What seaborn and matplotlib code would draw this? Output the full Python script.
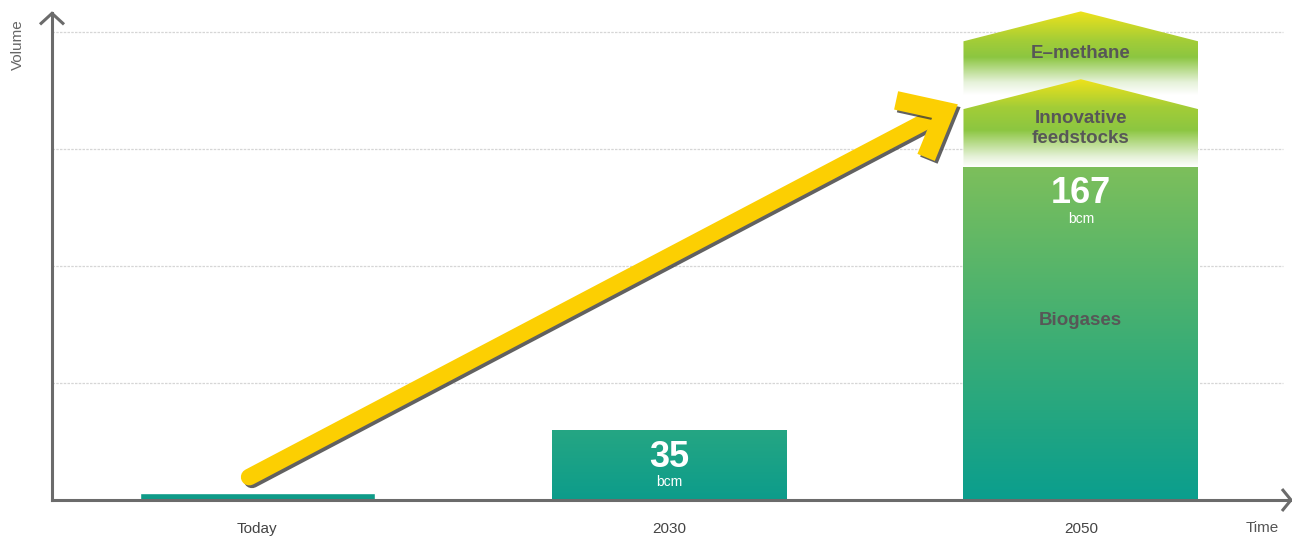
import numpy as np
import pandas as pd
import matplotlib.pyplot as plt
import matplotlib.patheffects as pe
import seaborn as sns
from matplotlib.colors import LinearSegmentedColormap
from matplotlib.patches import Polygon

# values (bcm)
periods = ["Today", "2030", "2050"]
volumes = [3.5, 35, 167]
innov_base, innov_shoulder, innov_peak = 167, 196, 211
emeth_base, emeth_shoulder, emeth_peak = 203, 230, 245
grid_levels = [58.7, 117.4, 176.1, 234.8]

sns.set_theme(style="white")
plt.rcParams['font.family'] = ['Liberation Sans', 'DejaVu Sans']

fig = plt.figure(figsize=(12.92, 5.36), dpi=100)
ax = fig.add_axes([52 / 1292, 36 / 536, 1240 / 1292, 495 / 536])

df = pd.DataFrame({"period": periods, "volume": volumes})
sns.barplot(data=df, x="period", y="volume", color="#0e9b88", width=0.57,
            saturation=1, ax=ax, zorder=2)


def vgrad(extent, stops, clip, z):
    cmap = LinearSegmentedColormap.from_list("g", stops)
    arr = np.linspace(0, 1, 256).reshape(-1, 1)
    im = ax.imshow(arr, cmap=cmap, extent=extent, origin="lower",
                   aspect="auto", zorder=z, interpolation="bilinear")
    im.set_clip_path(clip)
    return im


bars = ax.patches
# 2030 bar: teal gradient
b = bars[1]
vgrad([b.get_x(), b.get_x() + b.get_width(), 0, b.get_height()],
      [(0, "#0c9c8b"), (1, "#25a683")], b, 3)
# 2050 bar: teal to green
b = bars[2]
vgrad([b.get_x(), b.get_x() + b.get_width(), 0, b.get_height()],
      [(0, "#0a9e8e"), (0.45, "#39ad76"), (1, "#7dbf5b")], b, 3)

x0, x1 = b.get_x(), b.get_x() + b.get_width()
xc = (x0 + x1) / 2

# chevron blocks on top of 2050
for base, sh, pk, stops in [
    (innov_base, innov_shoulder, innov_peak,
     [(0, "#ffffff"), (0.12, "#e4f1d6"), (0.42, "#8cc641"),
      (0.68, "#a3cd37"), (1, "#efe21a")]),
    (emeth_base, emeth_shoulder, emeth_peak,
     [(0, "#ffffff"), (0.15, "#e6f2da"), (0.45, "#8cc641"),
      (0.65, "#a3cd37"), (1, "#efe21a")]),
]:
    poly = Polygon([(x0, base), (x0, sh), (xc, pk), (x1, sh), (x1, base)],
                   closed=True, facecolor="none", edgecolor="none")
    ax.add_patch(poly)
    vgrad([x0, x1, base, pk], stops, poly, 4 if base == innov_base else 3.5)

ax.set_xlim(-0.499, 2.513)
ax.set_ylim(0, 248.2)

# grid
for g in grid_levels:
    ax.axhline(g, xmin=0, xmax=0.993, color="#d6d6d6", lw=0.9,
               ls=(0, (2, 1)), zorder=0)

# axes
for s in ["top", "right"]:
    ax.spines[s].set_visible(False)
for s in ["left", "bottom"]:
    ax.spines[s].set_color("#6b6b6b")
    ax.spines[s].set_linewidth(2.2)
    ax.spines[s].set_zorder(5)
ax.spines["left"].set_bounds(0, 244)
ax.set_yticks([])
ax.set_xlabel("")
ax.set_ylabel("")
ax.tick_params(axis="x", length=0, pad=16, labelsize=11, labelcolor="#444444")

# axis arrow heads (display pixels)
ident = None
yt = ax.transData.transform((-0.499, 244))
ax.plot([yt[0] - 12, yt[0], yt[0] + 12], [yt[1] - 11, yt[1], yt[1] - 11],
        transform=ident, color="#6b6b6b", lw=2.2, clip_on=False,
        solid_joinstyle="miter", solid_capstyle="butt")
xt = ax.transData.transform((2.513, 0))
ax.plot([xt[0] - 10, xt[0] - 1, xt[0] - 10], [xt[1] + 11, xt[1], xt[1] - 11],
        transform=ident, color="#6b6b6b", lw=2.2, clip_on=False,
        solid_joinstyle="miter", solid_capstyle="butt")

# yellow growth arrow
p0 = ax.transData.transform((-0.02, 11.5))
p1 = ax.transData.transform((1.67, 195))
d = (p1 - p0) / np.linalg.norm(p1 - p0)
ang = np.arctan2(d[1], d[0])
back = ang + np.pi
arm = 50
a1 = p1 + arm * np.array([np.cos(back - 0.70), np.sin(back - 0.70)])
a2 = p1 + arm * np.array([np.cos(back + 0.70), np.sin(back + 0.70)])
shadow = [pe.SimpleLineShadow(offset=(2, -2), shadow_color="#3a3a3a", alpha=0.8),
          pe.Normal()]
ax.plot([p0[0], p1[0] - d[0] * 10], [p0[1], p1[1] - d[1] * 10], transform=ident,
        color="#fccf02", lw=12, solid_capstyle="round", zorder=6,
        path_effects=shadow, clip_on=False)
ax.plot([a1[0], p1[0], a2[0]], [a1[1], p1[1], a2[1]], transform=ident,
        color="#fccf02", lw=13.5, solid_joinstyle="miter", solid_capstyle="butt",
        zorder=6.5, path_effects=shadow, clip_on=False)

# labels
grey = "#575757"
ax.text(xc, 223.8, "E–methane", ha="center", va="center", fontsize=13.5,
        fontweight="bold", color=grey, zorder=7)
ax.text(xc, 186.4, "Innovative\nfeedstocks", ha="center", va="center",
        fontsize=13.5, fontweight="bold", color=grey, zorder=7, linespacing=1.2)
ax.text(xc, 89.8, "Biogases", ha="center", va="center", fontsize=13.5,
        fontweight="bold", color=grey, zorder=7)
ax.text(xc, 153.5, str(volumes[2]), ha="center", va="center", fontsize=26,
        fontweight="bold", color="white", zorder=7)
ax.text(xc, 141.0, "bcm", ha="center", va="center", fontsize=10,
        color="white", zorder=7)
ax.text(1, 21.2, str(volumes[1]), ha="center", va="center", fontsize=26,
        fontweight="bold", color="white", zorder=7)
ax.text(1, 8.8, "bcm", ha="center", va="center", fontsize=10,
        color="white", zorder=7)

fig.text(1262 / 1292, 1 - 528 / 536, "Time", ha="center", va="center",
         fontsize=11, color="#555555")
fig.text(18 / 1292, 1 - 45 / 536, "Volume", ha="center", va="center",
         rotation=90, fontsize=11, color="#666666")

fig.savefig("out.png", dpi=100)
